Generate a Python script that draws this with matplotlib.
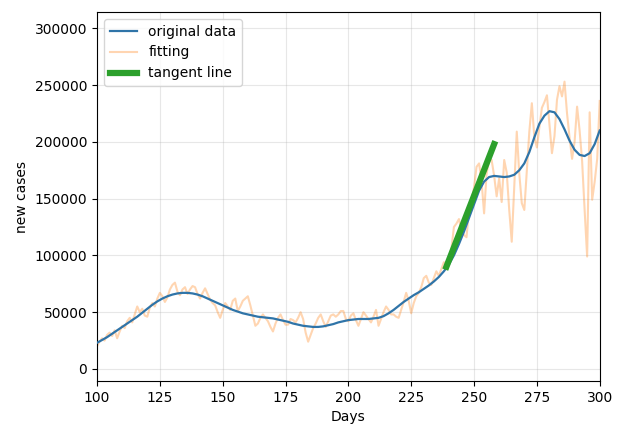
import matplotlib
matplotlib.use('Agg')
import matplotlib.pyplot as plt
import numpy as np

# daily new cases, day 100 .. 300
days = np.arange(100, 301)
daily_cases = [
    20000, 24000, 27000, 25000, 30000, 32000, 29000, 34000, 27000, 33000,
    38000, 36000, 42000, 45000, 41000, 48000, 55000, 50000, 53000, 47000,
    46000, 54000, 58000, 55000, 62000, 67000, 64000, 59000, 63000, 70000,
    74000, 76000, 68000, 65000, 70000, 72000, 66000, 70000, 73000, 72000,
    66000, 62000, 67000, 71000, 66000, 61000, 58000, 56000, 50000, 45000,
    52000, 58000, 55000, 52000, 60000, 62000, 51000, 55000, 60000, 62000,
    64000, 56000, 47000, 38000, 40000, 45000, 48000, 45000, 42000, 37000,
    33000, 40000, 45000, 48000, 43000, 39000, 39000, 44000, 43000, 41000,
    45000, 50000, 44000, 32000, 24000, 30000, 36000, 40000, 45000, 48000,
    42000, 37000, 42000, 47000, 48000, 46000, 48000, 51000, 51000, 44000,
    42000, 47000, 49000, 43000, 38000, 44000, 50000, 47000, 44000, 41000,
    46000, 52000, 38000, 44000, 50000, 55000, 52000, 48000, 48000, 46000,
    45000, 52000, 59000, 67000, 60000, 49000, 58000, 64000, 67000, 72000,
    80000, 82000, 76000, 74000, 80000, 86000, 82000, 88000, 94000, 90000,
    98000, 106000, 125000, 128000, 132000, 122000, 118000, 116000, 140000, 148000,
    160000, 178000, 181000, 165000, 137000, 172000, 184000, 184000, 170000, 152000,
    168000, 147000, 184000, 173000, 140000, 112000, 160000, 209000, 172000, 146000,
    140000, 175000, 209000, 234000, 204000, 195000, 213000, 230000, 235000, 241000,
    215000, 190000, 205000, 237000, 249000, 240000, 253000, 225000, 204000, 185000,
    200000, 231000, 210000, 183000, 140000, 99000, 226000, 149000, 165000, 185000,
    236000,
]

# smoothed curve, every second day
smooth_days = np.arange(100, 301, 2)
smooth_cases = [
    23000, 25500, 28000, 31000, 34000, 37000, 40000, 43000, 46000, 49500,
    53000, 56500, 59500, 62000, 64000, 65500, 66500, 67000, 67000, 66500,
    65500, 64000, 62000, 60000, 58000, 56000, 54000, 52000, 50500, 49000,
    48000, 47000, 46000, 45500, 45000, 44500, 43500, 42500, 41500, 40000,
    39000, 38000, 37500, 37000, 37000, 37500, 38500, 39500, 41000, 42000,
    43000, 43500, 44000, 44000, 44000, 44500, 45000, 46500, 49000, 52000,
    55500, 59000, 62000, 65000, 67500, 70500, 73500, 77000, 81000, 86000,
    92000, 100000, 110000, 121000, 133000, 145000, 157000, 165000, 169000, 170000,
    169500, 169000, 169500, 171000, 175000, 181000, 191000, 204000, 216000, 223000,
    227000, 226000, 220000, 211000, 201000, 193000, 188500, 187500, 190000, 198000,
    210000,
]

# tangent segment
tangent_days = [239, 258]
tangent_cases = [90000, 198000]

fig = plt.figure(figsize=(6.26, 4.30), dpi=100)
ax = fig.add_axes([0.155, 0.114, 0.803, 0.858])

ax.plot(smooth_days, smooth_cases, color='#2f74a8', linewidth=1.6,
        label='original data', zorder=3)
ax.plot(days, daily_cases, color='C1', alpha=0.32, linewidth=1.5,
        label='fitting', zorder=2)
ax.plot(tangent_days, tangent_cases, color='C2', linewidth=4.5,
        label='tangent line', zorder=4)

ax.set_xlim(100, 300)
ax.set_ylim(-10600, 314300)
ax.set_xticks([100, 125, 150, 175, 200, 225, 250, 275, 300])
ax.set_yticks([0, 50000, 100000, 150000, 200000, 250000, 300000])
ax.set_xlabel('Days')
ax.set_ylabel('new cases')
ax.grid(True, alpha=0.3)
ax.legend(loc='upper left')

fig.savefig('out.png', dpi=100)
